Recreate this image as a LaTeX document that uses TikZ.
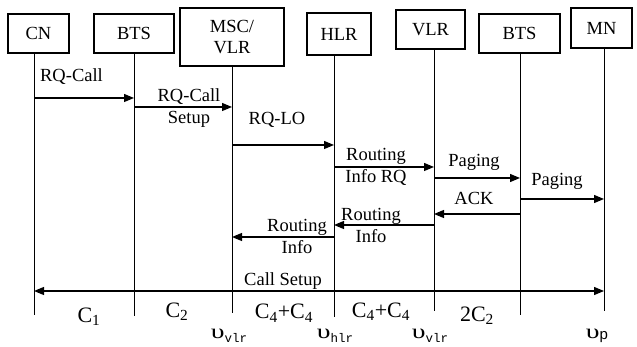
\documentclass[tikz,border=0pt]{standalone}
\usepackage{fontspec}
\setmainfont{Liberation Serif}
\newfontfamily\monof{Liberation Mono}
\newfontfamily\sansf{Liberation Sans}
\usetikzlibrary{arrows.meta}
\newcommand{\ups}{\scalebox{1.5}[1.1]{υ}}
\newcommand{\tsub}[1]{\raisebox{-4pt}{\monof\fontsize{12.5}{12.5}\selectfont #1}}
\begin{document}
\begin{tikzpicture}[x=1pt,y=-1pt,
 ent/.style={draw, line width=1.1pt, inner sep=0pt, font=\fontsize{18.5}{20.5}\selectfont, align=center},
 lbl/.style={inner sep=0pt, font=\fontsize{18.5}{22}\selectfont, align=center},
 cost/.style={inner sep=0pt, font=\fontsize{22}{24}\selectfont, anchor=base},
 life/.style={line width=1pt},
 msg/.style={line width=1.2pt, -{Triangle[length=10pt,width=8pt]}},
 dmsg/.style={line width=1.2pt, {Triangle[length=10pt,width=8pt]}-{Triangle[length=10pt,width=8pt]}},
]
\useasboundingbox (0,0) rectangle (637,347);
% entity boxes
\node[ent, minimum width=61pt, minimum height=39pt] (cn) at (38.5,33.5) {CN};
\node[ent, minimum width=80pt, minimum height=39pt] (bts1) at (134,33.5) {BTS};
\node[ent, minimum width=104pt, minimum height=58pt] (msc) at (232,37) {MSC/\\VLR};
\node[ent, minimum width=64pt, minimum height=42pt] (hlr) at (339,34) {HLR};
\node[ent, minimum width=69pt, minimum height=39pt] (vlr) at (430.5,29.5) {VLR};
\node[ent, minimum width=81pt, minimum height=39pt] (bts2) at (519.5,33.5) {BTS};
\node[ent, minimum width=61pt, minimum height=40pt] (mn) at (601.5,28) {MN};
% lifeline ends
\coordinate (xcn) at (34,315);
\coordinate (xbts1) at (134,316);
\coordinate (xmsc) at (232,313);
\coordinate (xhlr) at (334,317);
\coordinate (xvlr) at (434,311);
\coordinate (xbts2) at (520,315);
\coordinate (xmn) at (604,311);
\draw[life] (cn.south -| xcn) -- (xcn);
\draw[life] (bts1.south -| xbts1) -- (xbts1);
\draw[life] (msc.south -| xmsc) -- (xmsc);
\draw[life] (hlr.south -| xhlr) -- (xhlr);
\draw[life] (vlr.south -| xvlr) -- (xvlr);
\draw[life] (bts2.south -| xbts2) -- (xbts2);
\draw[life] (mn.south -| xmn) -- (xmn);
% messages
\draw[msg] (xcn |- 0,98) -- (xbts1 |- 0,98);
\draw[msg] (xbts1 |- 0,107) -- (xmsc |- 0,107);
\draw[msg] (xmsc |- 0,145) -- (xhlr |- 0,145);
\draw[msg] (xhlr |- 0,167) -- (xvlr |- 0,167);
\draw[msg] (xvlr |- 0,178) -- (xbts2 |- 0,178);
\draw[msg] (xbts2 |- 0,199) -- (xmn |- 0,199);
\draw[msg] (xbts2 |- 0,214) -- (xvlr |- 0,214);
\draw[msg] (xvlr |- 0,225) -- (xhlr |- 0,225);
\draw[msg] (xhlr |- 0,237) -- (xmsc |- 0,237);
\draw[dmsg] (xcn |- 0,291) -- (xmn |- 0,291);
% message labels
\node[lbl] (l1) at (71.5,77) {RQ-Call};
\node[lbl] (l2) at (189,108) {RQ-Call\\Setup};
\node[lbl] (l3) at (277,120) {RQ-LO};
\node[lbl] (l4) at (376,167) {Routing\\Info RQ};
\node[lbl] (l5) at (474,162) {Paging};
\node[lbl] (l6) at (557,181) {Paging};
\node[lbl] (l7) at (474,198) {ACK};
\node[lbl] (l8) at (371,225) {Routing\\Info};
\node[lbl] (l9) at (297,236) {Routing\\Info};
\node[lbl] (l10) at (283,281) {Call Setup};
% cost labels
\node[cost] (c1) at (89,322) {C\textsubscript{1}};
\node[cost] (c2) at (177,317) {C\textsubscript{2}};
\node[cost] (c3) at (284,319) {C\textsubscript{4}+C\textsubscript{4}};
\node[cost] (c4) at (381,317) {C\textsubscript{4}+C\textsubscript{4}};
\node[cost] (c5) at (477,321) {2C\textsubscript{2}};
% upsilon labels
\node[lbl, anchor=base] (u1) at (229,338) {\ups\tsub{vlr}};
\node[lbl, anchor=base] (u2) at (335,338) {\ups\tsub{hlr}};
\node[lbl, anchor=base] (u3) at (430,338) {\ups\tsub{vlr}};
\node[lbl, anchor=base] (u4) at (597,338) {\ups\raisebox{-1.5pt}{\sansf\fontsize{15}{15}\selectfont p}};
\end{tikzpicture}
\end{document}
